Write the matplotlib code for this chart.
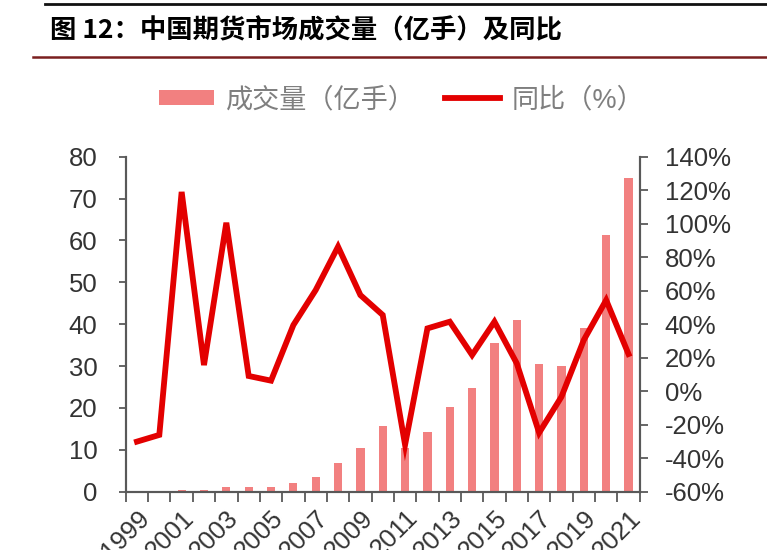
import matplotlib.pyplot as plt
import numpy as np
from matplotlib.lines import Line2D
from matplotlib.patches import Patch

# Data
years = [str(y) for y in range(1999, 2022)]
volume = [0.05, 0.05, 0.4, 0.4, 1.2, 1.2, 1.2, 2.0, 3.4, 6.8, 10.4, 15.6,
          10.5, 14.2, 20.3, 24.7, 35.6, 41.1, 30.4, 30.1, 39.2, 61.3, 74.9]
yoy = [-30.1, -26.1, 119, 15.6, 100.6, 9.1, 6.3, 39.5, 60.4, 86.3, 57.4, 45.5,
       -32, 37.5, 41.5, 21.6, 41.5, 16.6, -24.8, -3.3, 30.6, 54.4, 22.2]

TITLE = "图 12：中国期货市场成交量（亿手）及同比"
BAR_LABEL = "成交量（亿手）"
LINE_LABEL = "同比（%）"

BAR_COLOR = "#F28080"
LINE_COLOR = "#E30000"
AXIS_COLOR = "#595959"
TEXT_COLOR = "#333333"
FONT_SIZE = 18.5

plt.rcParams['font.family'] = ['Liberation Sans', 'Noto Sans CJK SC', 'DejaVu Sans']

fig = plt.figure(figsize=(7.67, 5.5), dpi=100)
ax = fig.add_axes([0.164, 0.106, 0.670, 0.609])
ax2 = ax.twinx()

x = np.arange(len(years))
ax.bar(x, volume, width=0.37, color=BAR_COLOR, zorder=2)
ax2.plot(x, yoy, color=LINE_COLOR, linewidth=4.2, solid_joinstyle="miter", zorder=3)

ax.set_xlim(-0.5, len(years) - 0.5)
ax.set_ylim(0, 80)
ax.set_yticks(range(0, 81, 10))
ax2.set_ylim(-60, 140)
ax2.set_yticks(range(-60, 141, 20))
ax2.set_yticklabels([f"{v}%" for v in range(-60, 141, 20)])

# year labels every other category, ticks at the category boundaries
ax.set_xticks(x[::2])
ax.set_xticklabels(years[::2], rotation=45, ha="right", va="top", rotation_mode="anchor")
ax.set_xticks(np.arange(-0.5, len(years), 1), minor=True)
ax.tick_params(axis="x", which="major", length=0, pad=10, labelsize=FONT_SIZE, labelcolor=TEXT_COLOR)
ax.tick_params(axis="x", which="minor", length=7, width=1.3, color=AXIS_COLOR, direction="out")
ax.tick_params(axis="y", length=5, width=1.3, color=AXIS_COLOR, pad=15.5, labelsize=FONT_SIZE, labelcolor=TEXT_COLOR)
ax2.tick_params(axis="y", length=6, width=1.3, color=AXIS_COLOR, pad=12, labelsize=FONT_SIZE, labelcolor=TEXT_COLOR)

for a in (ax, ax2):
    a.spines["top"].set_visible(False)
    for side in ("left", "right", "bottom"):
        a.spines[side].set_color(AXIS_COLOR)
        a.spines[side].set_linewidth(1.5)

handles = [Patch(facecolor=BAR_COLOR, edgecolor="none"),
           Line2D([], [], color=LINE_COLOR, linewidth=4.2)]
fig.legend(handles, [BAR_LABEL, LINE_LABEL], loc="center", bbox_to_anchor=(402 / 767, 1 - 100 / 550),
           ncol=2, frameon=False, fontsize=19.5, labelcolor="#7f7f7f", handlelength=2.0,
           handleheight=0.5, handletextpad=0.45, columnspacing=1.1)

# header: top rule, title and dark red underline
fig.add_artist(Line2D([45 / 767, 1], [1 - 4 / 550, 1 - 4 / 550], color="#111111", linewidth=2))
fig.text(50 / 767, 1 - 31 / 550, TITLE, fontsize=19, fontweight="heavy", color="black",
         va="center", ha="left", family=["Noto Sans CJK SC", "DejaVu Sans"])
fig.add_artist(Line2D([33 / 767, 1], [1 - 57 / 550, 1 - 57 / 550], color="#7a1f1f", linewidth=1.8))

plt.savefig("out.png", dpi=100)
